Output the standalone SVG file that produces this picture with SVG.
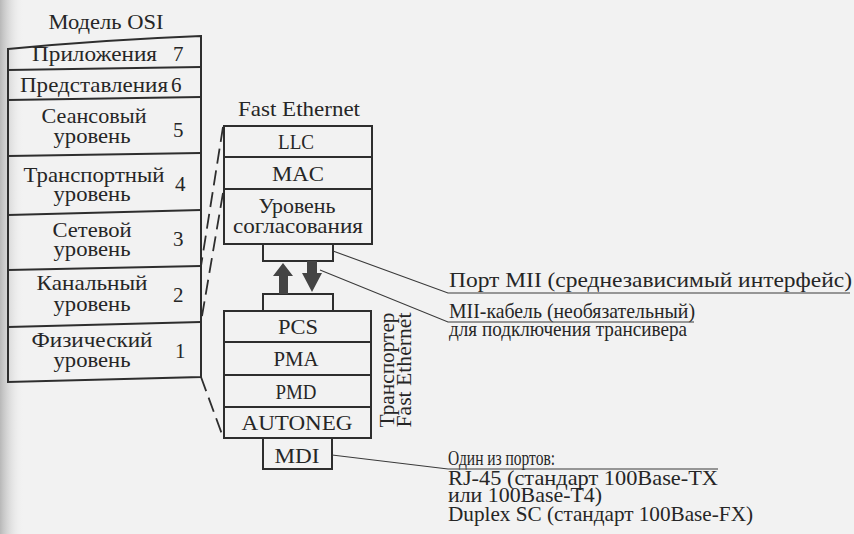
<svg xmlns="http://www.w3.org/2000/svg" width="854" height="534" viewBox="0 0 854 534">
<defs>
<linearGradient id="fold" x1="0" y1="0" x2="1" y2="0">
<stop offset="0" stop-color="#b8b8b8"/>
<stop offset="1" stop-color="#f2f2f2" stop-opacity="0"/>
</linearGradient>
<style>
.t{font-family:"Liberation Serif","Times New Roman",serif;font-size:21px;fill:#262626}
.m{text-anchor:middle}
.box{fill:none;stroke:#2e2e2e;stroke-width:2}
.sep{fill:none;stroke:#2e2e2e;stroke-width:1.8}
.dash{fill:none;stroke:#2e2e2e;stroke-width:1.8;stroke-dasharray:15 7}
.lead{fill:none;stroke:#3a3a3a;stroke-width:1.1}
.arr{fill:#444;stroke:none}
</style>
</defs>
<rect width="854" height="534" fill="#f2f2f2"/>
<rect width="24" height="534" fill="url(#fold)"/>

<g id="osi-model">
<text class="t m" x="106" y="29" textLength="115" lengthAdjust="spacingAndGlyphs">Модель OSI</text>
<path class="box" d="M8,49 Q100,40 201,36 L201,377 L8,382 Z"/>
<path class="sep" d="M8,70 L201,67"/>
<path class="sep" d="M8,100 L201,97"/>
<path class="sep" d="M8,156 L201,153"/>
<path class="sep" d="M8,215 L201,210"/>
<path class="sep" d="M8,270 L201,266"/>
<path class="sep" d="M8,327 L201,322"/>
<g id="osi-7"><text class="t" x="32" y="61" textLength="125" lengthAdjust="spacingAndGlyphs">Приложения</text><text class="t" x="173" y="61">7</text></g>
<g id="osi-6"><text class="t" x="20" y="92" textLength="148" lengthAdjust="spacingAndGlyphs">Представления</text><text class="t" x="171" y="92">6</text></g>
<g id="osi-5"><text class="t m" x="94" y="123" textLength="105" lengthAdjust="spacingAndGlyphs">Сеансовый</text><text class="t m" x="92" y="143" textLength="77" lengthAdjust="spacingAndGlyphs">уровень</text><text class="t" x="173" y="137">5</text></g>
<g id="osi-4"><text class="t m" x="94" y="182" textLength="141" lengthAdjust="spacingAndGlyphs">Транспортный</text><text class="t m" x="92" y="201" textLength="77" lengthAdjust="spacingAndGlyphs">уровень</text><text class="t" x="175" y="191">4</text></g>
<g id="osi-3"><text class="t m" x="92" y="237" textLength="79" lengthAdjust="spacingAndGlyphs">Сетевой</text><text class="t m" x="92" y="256" textLength="77" lengthAdjust="spacingAndGlyphs">уровень</text><text class="t" x="173" y="246">3</text></g>
<g id="osi-2"><text class="t m" x="92" y="290" textLength="111" lengthAdjust="spacingAndGlyphs">Канальный</text><text class="t m" x="92" y="311" textLength="77" lengthAdjust="spacingAndGlyphs">уровень</text><text class="t" x="173" y="302">2</text></g>
<g id="osi-1"><text class="t m" x="92" y="347" textLength="121" lengthAdjust="spacingAndGlyphs">Физический</text><text class="t m" x="92" y="367" textLength="77" lengthAdjust="spacingAndGlyphs">уровень</text><text class="t" x="175" y="358">1</text></g>
</g>

<g id="fast-ethernet">
<text class="t m" x="299" y="116" textLength="122" lengthAdjust="spacingAndGlyphs">Fast Ethernet</text>
<rect class="box" x="224" y="126" width="148" height="118"/>
<path class="sep" d="M224,157 H372 M224,189 H372"/>
<g id="llc"><text class="t m" x="296" y="149" textLength="36" lengthAdjust="spacingAndGlyphs">LLC</text></g>
<g id="mac"><text class="t m" x="298" y="181" textLength="52" lengthAdjust="spacingAndGlyphs">MAC</text></g>
<g id="reconciliation"><text class="t m" x="297" y="213" textLength="77" lengthAdjust="spacingAndGlyphs">Уровень</text><text class="t m" x="298" y="233" textLength="130" lengthAdjust="spacingAndGlyphs">согласования</text></g>
</g>

<g id="mii-port"><rect class="box" x="263" y="244" width="70" height="17"/></g>
<g id="mii-port-lower"><rect class="box" x="263" y="294" width="70" height="17"/></g>

<g id="transceiver">
<rect class="box" x="224" y="311" width="147" height="127"/>
<path class="sep" d="M224,342 H371 M224,375 H371 M224,407 H371"/>
<g id="pcs"><text class="t m" x="298" y="334" textLength="40" lengthAdjust="spacingAndGlyphs">PCS</text></g>
<g id="pma"><text class="t m" x="296" y="366" textLength="45" lengthAdjust="spacingAndGlyphs">PMA</text></g>
<g id="pmd"><text class="t m" x="296" y="399" textLength="41" lengthAdjust="spacingAndGlyphs">PMD</text></g>
<g id="autoneg"><text class="t m" x="297" y="430" textLength="111" lengthAdjust="spacingAndGlyphs">AUTONEG</text></g>
<text class="t m" transform="translate(394,370) rotate(-90)" textLength="115" lengthAdjust="spacingAndGlyphs">Транспортер</text>
<text class="t m" transform="translate(411,370) rotate(-90)" textLength="115" lengthAdjust="spacingAndGlyphs">Fast Ethernet</text>
</g>

<g id="mdi"><rect class="box" x="263" y="438" width="69" height="31"/><text class="t m" x="297" y="463" textLength="45" lengthAdjust="spacingAndGlyphs">MDI</text></g>

<g id="labels">
<text class="t" x="449" y="287" textLength="403" lengthAdjust="spacingAndGlyphs">Порт MII (среднезависимый интерфейс)</text>
<text class="t" x="449" y="318" textLength="246" lengthAdjust="spacingAndGlyphs">MII-кабель (необязательный)</text>
<text class="t" x="449" y="336" textLength="238" lengthAdjust="spacingAndGlyphs">для подключения трансивера</text>
<text class="t" x="448" y="465" textLength="107" lengthAdjust="spacingAndGlyphs">Один из портов:</text>
<text class="t" x="448" y="485" textLength="270" lengthAdjust="spacingAndGlyphs">RJ-45 (стандарт 100Base-TX</text>
<text class="t" x="448" y="502" textLength="154" lengthAdjust="spacingAndGlyphs">или 100Base-T4)</text>
<text class="t" x="448" y="521" textLength="305" lengthAdjust="spacingAndGlyphs">Duplex SC (стандарт 100Base-FX)</text>
</g>

<g id="connectors">
<path class="dash" d="M223,127 L201,266"/>
<path class="dash" d="M223,193 L201,322"/>
<path class="dash" d="M201,377 L223,437"/>
<path class="lead" d="M333,251 L448,293 H850"/>
<path class="lead" d="M320,270 L448,322 H694"/>
<path class="lead" d="M332,455 L448,469 H718"/>
<polygon class="arr" points="283,263 293,276 288,276 288,294 279,294 279,276 273,276"/>
<polygon class="arr" points="307,261 317,261 317,273 322,273 312,292 302,273 307,273"/>
</g>
</svg>
